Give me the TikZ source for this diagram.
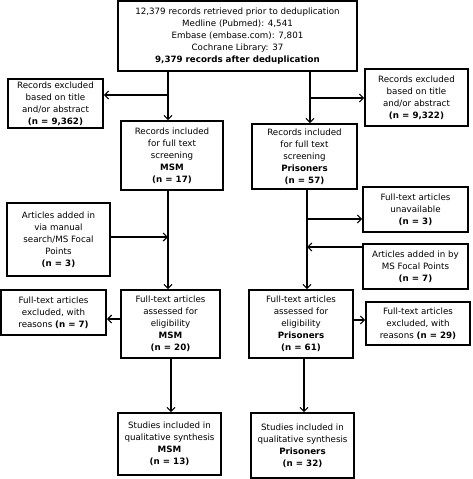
\documentclass[tikz,border=0pt]{standalone}
\usepackage{fontspec}
\setmainfont{DejaVu Sans}
\usetikzlibrary{arrows.meta}
\tikzset{
  box/.style={draw, line width=1.6pt, align=center, inner sep=0pt,
    font=\fontsize{8.7}{12}\selectfont},
  arr/.style={line width=1.2pt, -{Straight Barb[length=4pt,width=8pt]}},
  ln/.style={line width=1.2pt}
}
\begin{document}
\begin{tikzpicture}[x=1pt,y=-1pt]
\useasboundingbox (0,0) rectangle (473,479);
\node[box, minimum width=239pt, minimum height=70pt] (top) at (237.5,36)
  {12,379 records retrieved prior to deduplication\\Medline (Pubmed): 4,541\\Embase (embase.com): 7,801\\Cochrane Library: 37\\\textbf{9,379 records after deduplication}};
\node[box, minimum width=95pt, minimum height=49pt] (exL) at (55.5,103.5)
  {Records excluded\\based on title\\and/or abstract\\\textbf{(n = 9,362)}};
\node[box, minimum width=103pt, minimum height=57pt] (exR) at (416.5,97.5)
  {Records excluded\\based on title\\and/or abstract\\\textbf{(n = 9,322)}};
\node[box, minimum width=102pt, minimum height=69pt] (msm1) at (172,155.5)
  {Records included\\for full text\\screening\\\textbf{MSM}\\\textbf{(n = 17)}};
\node[box, minimum width=105pt, minimum height=65pt] (pri1) at (304.5,156.5)
  {Records included\\for full text\\screening\\\textbf{Prisoners}\\\textbf{(n = 57)}};
\node[box, minimum width=103pt, minimum height=73pt] (man) at (58.5,239.5)
  {Articles added in\\via manual\\search/MS Focal\\Points\\\textbf{(n = 3)}};
\node[box, minimum width=105pt, minimum height=45pt] (unav) at (415.5,209.5)
  {Full-text articles\\unavailable\\\textbf{(n = 3)}};
\node[box, minimum width=105pt, minimum height=45pt] (focal) at (415.5,266.5)
  {Articles added in by\\MS Focal Points\\\textbf{(n = 7)}};
\node[box, minimum width=99pt, minimum height=68pt] (msm2) at (170.5,324)
  {Full-text articles\\assessed for\\eligibility\\\textbf{MSM}\\\textbf{(n = 20)}};
\node[box, minimum width=105pt, minimum height=45pt] (exL2) at (53.5,312.5)
  {Full-text articles\\excluded, with\\reasons \textbf{(n = 7)}};
\node[box, minimum width=104pt, minimum height=68pt] (pri2) at (301,324)
  {Full-text articles\\assessed for\\eligibility\\\textbf{Prisoners}\\\textbf{(n = 61)}};
\node[box, minimum width=104pt, minimum height=43pt] (exR2) at (418,323.5)
  {Full-text articles\\excluded, with\\reasons \textbf{(n = 29)}};
\node[box, minimum width=103pt, minimum height=62pt] (msm3) at (169.5,444)
  {Studies included in\\qualitative synthesis\\\textbf{MSM}\\\textbf{(n = 13)}};
\node[box, minimum width=103pt, minimum height=65pt] (pri3) at (302.5,445.5)
  {Studies included in\\qualitative synthesis\\\textbf{Prisoners}\\\textbf{(n = 32)}};
% coordinates for vertical lines and branches
\coordinate (c1) at (168,95);
\coordinate (c2) at (310,98);
\coordinate (c3) at (168,237);
\coordinate (c4) at (307,219);
\coordinate (c5) at (307,247);
\coordinate (c6) at (171,319);
\coordinate (c7) at (304,320);
% top to MSM
\draw[arr] (top.south -| c1) -- (msm1.north -| c1);
\draw[arr] (c1) -- (c1 -| exL.east);
% top to prisoners
\draw[arr] (top.south -| c2) -- (pri1.north -| c2);
\draw[arr] (c2) -- (c2 -| exR.west);
% MSM chain
\draw[arr] (msm1.south -| c3) -- (msm2.north -| c3);
\draw[arr] (c3 -| man.east) -- (c3);
\draw[arr] (c6 -| msm2.west) -- (c6 -| exL2.east);
\draw[arr] (msm2.south -| c6) -- (msm3.north -| c6);
% prisoners chain
\draw[arr] (pri1.south -| c4) -- (pri2.north -| c4);
\draw[arr] (c4) -- (c4 -| unav.west);
\draw[arr] (c5 -| focal.west) -- (c5);
\draw[arr] (c7 -| pri2.east) -- (c7 -| exR2.west);
\draw[arr] (pri2.south -| c7) -- (pri3.north -| c7);
\end{tikzpicture}
\end{document}
